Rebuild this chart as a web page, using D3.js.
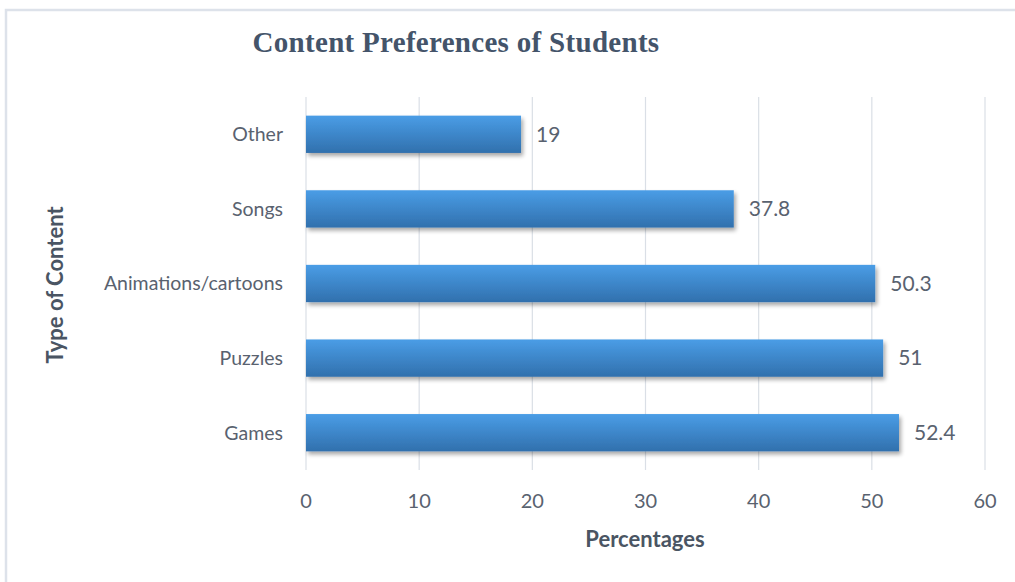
<!DOCTYPE html>
<html><head><meta charset="utf-8">
<script src="https://cdn.jsdelivr.net/npm/d3@7"></script>
<style>body{margin:0;background:#fff;}svg{display:block;}</style>
</head><body>
<svg id="c" width="1015" height="582"></svg>
<script>
const categories = ["Other", "Songs", "Animations/cartoons", "Puzzles", "Games"];
const values = [19, 37.8, 50.3, 51, 52.4];
const xTicks = [0, 10, 20, 30, 40, 50, 60];
const titleText = "Content Preferences of Students";
const xTitle = "Percentages";
const yTitle = "Type of Content";

const svg = d3.select("#c");
const W = 1015, H = 582;
const m = {left: 306, right: 30, top: 97, bottom: 112};
const x = d3.scaleLinear().domain([0, 60]).range([m.left, 985]);
const y = d3.scaleBand().domain(categories).range([m.top, 470]).paddingInner(0.5).paddingOuter(0.25);

const defs = svg.append("defs");
const g = defs.append("linearGradient").attr("id","bg").attr("x1",0).attr("y1",0).attr("x2",0).attr("y2",1);
g.append("stop").attr("offset","0%").attr("stop-color","#4a9de6");
g.append("stop").attr("offset","100%").attr("stop-color","#3170ad");
const f = defs.append("filter").attr("id","sh").attr("x","-5%").attr("y","-30%").attr("width","115%").attr("height","180%");
f.append("feGaussianBlur").attr("in","SourceAlpha").attr("stdDeviation",2.2);
f.append("feOffset").attr("dx",2).attr("dy",3).attr("result","o");
f.append("feComponentTransfer").append("feFuncA").attr("type","linear").attr("slope",0.35);
const mg = f.append("feMerge"); mg.append("feMergeNode"); mg.append("feMergeNode").attr("in","SourceGraphic");

// border
svg.append("path").attr("d",`M6,${H} L6,10 L${W},10`).attr("fill","none").attr("stroke","#dde2ea").attr("stroke-width",2.5);

// gridlines
svg.append("g").selectAll("line").data(xTicks).join("line")
  .attr("x1",d=>x(d)).attr("x2",d=>x(d)).attr("y1",m.top).attr("y2",470)
  .attr("stroke","#dadfe6").attr("stroke-width",1.2);

// bars
svg.append("g").selectAll("rect").data(categories).join("rect")
  .attr("x",x(0)).attr("y",d=>y(d)).attr("width",(d,i)=>x(values[i])-x(0)).attr("height",y.bandwidth())
  .attr("fill","url(#bg)").attr("filter","url(#sh)");

const txtCol = "#59626f";
const font = "Lato, 'Open Sans', sans-serif";

// value labels
svg.append("g").selectAll("text").data(categories).join("text")
  .attr("x",(d,i)=>x(values[i])+15).attr("y",d=>y(d)+y.bandwidth()/2).attr("dy","0.35em")
  .attr("font-family",font).attr("font-size",21).attr("fill",txtCol)
  .text((d,i)=>values[i]);

// category labels
svg.append("g").selectAll("text").data(categories).join("text")
  .attr("x",283).attr("y",d=>y(d)+y.bandwidth()/2).attr("dy","0.35em").attr("text-anchor","end")
  .attr("font-family",font).attr("font-size",19.5).attr("fill",txtCol).text(d=>d);

// x tick labels
svg.append("g").selectAll("text").data(xTicks).join("text")
  .attr("x",d=>x(d)).attr("y",508).attr("text-anchor","middle")
  .attr("font-family",font).attr("font-size",20).attr("fill",txtCol).text(d=>d);

// titles
svg.append("text").attr("x",456).attr("y",52).attr("text-anchor","middle")
  .attr("font-family","'Liberation Serif', serif").attr("font-weight","bold").attr("font-size",29)
  .attr("letter-spacing",0.3).attr("fill","#44546a").text(titleText);
svg.append("text").attr("x",645).attr("y",547).attr("text-anchor","middle")
  .attr("font-family",font).attr("font-weight","bold").attr("font-size",22).attr("fill","#4a5563").text(xTitle);
svg.append("text").attr("transform","translate(63,285) rotate(-90)").attr("text-anchor","middle")
  .attr("font-family",font).attr("font-weight","bold").attr("font-size",22).attr("fill","#4a5563").text(yTitle);
</script>
</body></html>
